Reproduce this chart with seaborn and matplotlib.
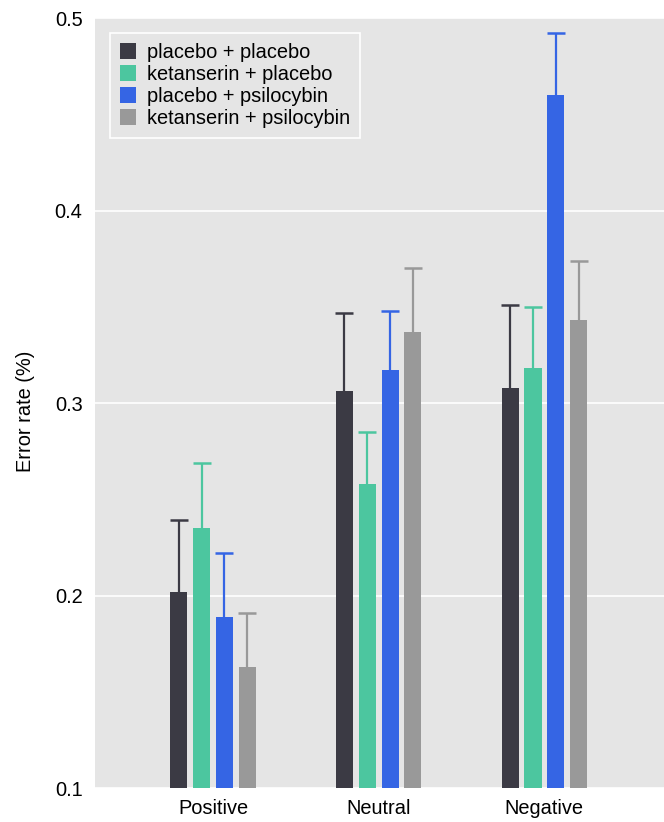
import pandas as pd
import matplotlib
matplotlib.use("Agg")
import matplotlib.pyplot as plt
import seaborn as sns

# Data
valences = ["Positive", "Neutral", "Negative"]
conditions = ["placebo + placebo", "ketanserin + placebo",
              "placebo + psilocybin", "ketanserin + psilocybin"]
colors = ["#3b3a44", "#4cc69f", "#3565e4", "#999999"]

# mean error rate per condition, in order Positive, Neutral, Negative
pp_mean = [0.202, 0.306, 0.308]
kp_mean = [0.235, 0.258, 0.318]
ps_mean = [0.189, 0.317, 0.460]
kps_mean = [0.163, 0.337, 0.343]

# upper end of the error bar
pp_upper = [0.239, 0.347, 0.351]
kp_upper = [0.269, 0.285, 0.350]
ps_upper = [0.222, 0.348, 0.492]
kps_upper = [0.191, 0.370, 0.374]

means = [pp_mean, kp_mean, ps_mean, kps_mean]
uppers = [pp_upper, kp_upper, ps_upper, kps_upper]

rows = []
for cond, m in zip(conditions, means):
    for val, v in zip(valences, m):
        rows.append({"valence": val, "condition": cond, "rate": v})
df = pd.DataFrame(rows)

sns.set_theme(style="white")
plt.rcParams["font.family"] = ["Liberation Sans", "DejaVu Sans"]
plt.rcParams["text.color"] = "black"
plt.rcParams["axes.labelcolor"] = "black"

fig = plt.figure(figsize=(6.64, 8.22), dpi=100)
ax = fig.add_axes([95 / 664, 1 - 788 / 822, 1 - 95 / 664, (788 - 18) / 822])
ax.set_facecolor("#e5e5e5")

sns.barplot(data=df, x="valence", y="rate", hue="condition",
            order=valences, hue_order=conditions, palette=colors,
            width=0.55, gap=0.25, errorbar=None, saturation=1,
            linewidth=0, ax=ax, zorder=2)

# one-sided error bars on top of each bar
for cont, cond_means, cond_upper, col in zip(ax.containers, means, uppers, colors):
    xs = [b.get_x() + b.get_width() / 2 for b in cont]
    err = [u - m for m, u in zip(cond_means, cond_upper)]
    eb = ax.errorbar(xs, cond_means, yerr=[[0] * len(err), err], fmt="none",
                     ecolor=col, elinewidth=1.6, capsize=6.3, capthick=1.8,
                     zorder=1)
    eb[1][0].set_visible(False)  # no cap at the bar top

ax.set_ylim(0.1, 0.5)
ax.set_xlim(-0.712, 2.722)
ax.set_yticks([0.1, 0.2, 0.3, 0.4, 0.5])
ax.set_yticklabels(["0.1", "0.2", "0.3", "0.4", "0.5"])
ax.yaxis.grid(True, color="white", linewidth=1.2, zorder=0)
ax.set_axisbelow(True)
for s in ax.spines.values():
    s.set_visible(False)
ax.tick_params(axis="both", length=0, labelsize=14.4, colors="black")
ax.tick_params(axis="y", pad=9)
ax.tick_params(axis="x", pad=8)
ax.set_xlabel("")
ax.set_ylabel("Error rate (%)", fontsize=14.4, color="black")
ax.yaxis.set_label_coords(-(95 - 35) / 569, 1 - (411 - 18) / 770)

leg = ax.legend(loc="upper left", bbox_to_anchor=(0.0, 1.0),
                borderaxespad=0.75, fontsize=14.4, frameon=True,
                fancybox=False, facecolor="#e5e5e5", edgecolor="white",
                framealpha=1, handlelength=0.8, handleheight=0.8,
                handletextpad=0.55, labelspacing=0.15, borderpad=0.5,
                labelcolor="black")
leg.get_frame().set_linewidth(1.2)

fig.savefig("out.png", dpi=100)
